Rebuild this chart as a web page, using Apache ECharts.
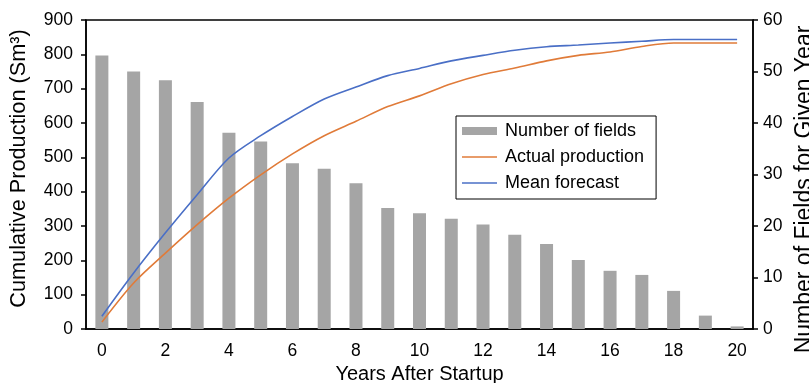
<!DOCTYPE html>
<html>
<head>
<meta charset="utf-8">
<script src="https://cdn.jsdelivr.net/npm/echarts@6/dist/echarts.min.js"></script>
<style>
  html, body { margin: 0; padding: 0; background: #fff; }
  #chart { width: 809px; height: 383px; }
</style>
</head>
<body>
<div id="chart"></div>
<script>
// Years after startup (x categories)
const years = ['0','1','2','3','4','5','6','7','8','9','10','11','12','13','14','15','16','17','18','19','20'];

// Number of fields still producing in each year (right axis)
const fieldCounts = [53.1, 50.0, 48.3, 44.1, 38.1, 36.4, 32.2, 31.1, 28.3, 23.5, 22.5, 21.4, 20.3, 18.3, 16.5, 13.4, 11.3, 10.5, 7.4, 2.6, 0.5];

// Cumulative production, Sm³ (left axis)
const actualProduction = [20, 134, 221, 304, 381, 449, 510, 563, 605, 648, 679, 714, 741, 760, 781, 797, 807, 823, 833, 833, 833];
const meanForecast = [37, 163, 280, 391, 498, 563, 619, 670, 705, 738, 759, 781, 797, 812, 822, 827, 833, 838, 843, 843, 843];

const FONT = 'Liberation Sans, Arial, Helvetica, sans-serif';
// thin horizontal stroke used as the legend key for the two lines
const LINE_KEY = 'path://M0,0 L35,0 L35,1.6 L0,1.6 Z';

const chart = echarts.init(document.getElementById('chart'), null, { renderer: 'canvas' });

chart.setOption({
  animation: false,
  backgroundColor: '#ffffff',
  textStyle: { fontFamily: FONT, color: '#000' },
  grid: {
    left: 86, right: 56, top: 20, bottom: 54,
    outerBoundsMode: 'none',
    containLabel: false,
    show: true, borderColor: '#000', borderWidth: 1.5, backgroundColor: 'transparent'
  },
  legend: {
    orient: 'vertical',
    left: 456, top: 116,
    padding: [6, 12, 7, 6],
    itemGap: 8,
    itemWidth: 35, itemHeight: 8,
    borderColor: '#000', borderWidth: 1, borderRadius: 0,
    backgroundColor: '#fff',
    textStyle: { fontFamily: FONT, fontSize: 18, color: '#000', padding: [0, 0, 0, 3] },
    data: [
      { name: 'Number of fields', icon: 'rect' },
      { name: 'Actual production', icon: LINE_KEY },
      { name: 'Mean forecast', icon: LINE_KEY }
    ]
  },
  xAxis: {
    type: 'category',
    data: years,
    boundaryGap: true,
    name: 'Years After Startup',
    nameLocation: 'middle',
    nameGap: 33,
    nameTextStyle: { fontFamily: FONT, fontSize: 20, color: '#000' },
    axisLine: { lineStyle: { color: '#000', width: 1.5 } },
    axisTick: { show: false },
    axisLabel: { interval: 1, margin: 13, fontSize: 17.5, color: '#000', fontFamily: FONT },
    splitLine: { show: false }
  },
  yAxis: [
    {
      type: 'value',
      min: 0, max: 900, interval: 100,
      name: 'Cumulative Production (Sm³)',
      nameLocation: 'middle',
      nameGap: 56,
      nameTextStyle: { fontFamily: FONT, fontSize: 21.7, color: '#000', padding: [0, 0, 0, 12] },
      axisLine: { show: true, lineStyle: { color: '#000', width: 1.5 } },
      axisTick: { show: true, length: 5, inside: false, lineStyle: { color: '#000', width: 1.5 } },
      axisLabel: { margin: 13, fontSize: 17.5, color: '#000', fontFamily: FONT },
      splitLine: { show: false }
    },
    {
      type: 'value',
      min: 0, max: 60, interval: 10,
      position: 'right',
      name: 'Number of Fields for Given Year',
      nameLocation: 'middle',
      nameGap: 38,
      nameTextStyle: { fontFamily: FONT, fontSize: 23, color: '#000', padding: [0, 30, 0, 0] },
      axisLine: { show: true, lineStyle: { color: '#000', width: 1.5 } },
      axisTick: { show: true, length: 5, inside: false, lineStyle: { color: '#000', width: 1.5 } },
      axisLabel: { margin: 10, fontSize: 17.5, color: '#000', fontFamily: FONT },
      splitLine: { show: false }
    }
  ],
  series: [
    {
      name: 'Number of fields',
      type: 'bar',
      yAxisIndex: 1,
      data: fieldCounts,
      barWidth: 13,
      itemStyle: { color: '#a5a5a5' },
      z: 1
    },
    {
      name: 'Actual production',
      type: 'line',
      yAxisIndex: 0,
      data: actualProduction,
      smooth: 0.3,
      showSymbol: false,
      symbol: 'none',
      lineStyle: { color: '#e07b39', width: 1.6 },
      itemStyle: { color: '#e07b39' },
      z: 3
    },
    {
      name: 'Mean forecast',
      type: 'line',
      yAxisIndex: 0,
      data: meanForecast,
      smooth: 0.3,
      showSymbol: false,
      symbol: 'none',
      lineStyle: { color: '#4a6fc6', width: 1.6 },
      itemStyle: { color: '#4a6fc6' },
      z: 3
    }
  ]
});
</script>
</body>
</html>
